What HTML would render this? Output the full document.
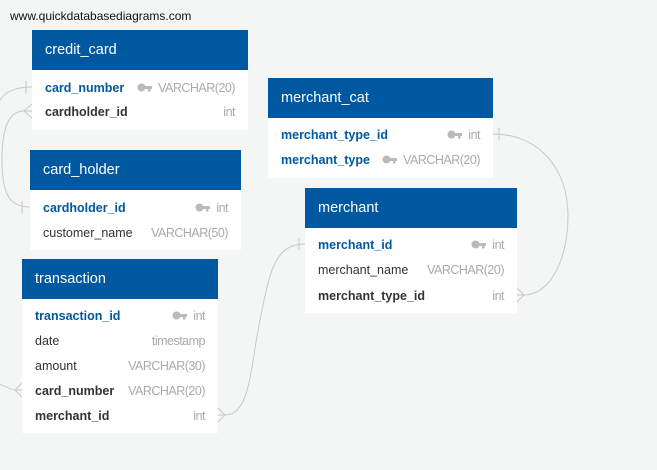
<!DOCTYPE html>
<html><head><meta charset="utf-8"><style>
html,body{margin:0;padding:0}
body{width:657px;height:470px;background:#f4f5f5;position:relative;overflow:hidden;font-family:"Liberation Sans",Arial,sans-serif}
.url{position:absolute;left:10px;top:9px;font-size:12px;color:#111}
.t{position:absolute;background:#fff}
.h{background:#0059a0;color:#fff;font-size:14.5px;height:40px;line-height:41px;padding-left:13px}
.r{position:absolute;left:13px;right:13px;height:20px;font-size:12.5px;line-height:22px}
.r .n{position:absolute;left:0;color:#333}
.r .n.b{font-weight:bold;color:#333}
.r .n.pk{font-weight:bold;color:#0059a0}
.r .ty{position:absolute;right:0;color:#aaa;font-size:12.5px;letter-spacing:-0.5px}
.k{display:inline-block;vertical-align:middle;margin-right:6px;margin-top:-2px}
svg.c{position:absolute;left:0;top:0}
</style></head><body>
<div class="url">www.quickdatabasediagrams.com</div>

<svg class="c" width="657" height="470" fill="none" stroke="#c8c8c8" stroke-width="1">
<path d="M32,87 C10,87 0,95 -5,110"/>
<path d="M16,390 C10,390 5,385 -5,383"/>
<line x1="26" y1="81" x2="26" y2="93"/>
<path d="M32,104 L24,111 L32,118"/>
<line x1="24" y1="111" x2="32" y2="111"/>
<path d="M22,383 L15,390 L22,397"/>
<line x1="15" y1="390" x2="22" y2="390"/>
<path d="M24,111 C10,111 2,125 2,160 C2,195 10,207 30,207"/>
<line x1="22" y1="201" x2="22" y2="213"/>
<path d="M225,415 C250,415 250,370 260,320 C270,270 275,244 305,244"/>
<line x1="218" y1="415" x2="225" y2="415"/>
<line x1="299" y1="238" x2="299" y2="250"/>
<path d="M218,408 L225,415 L218,422"/>
<path d="M493,134 C540,134 568,170 568,215 C568,260 550,295 524,295"/>
<line x1="517" y1="295" x2="524" y2="295"/>
<line x1="499" y1="128" x2="499" y2="140"/>
<path d="M517,288 L524,295 L517,302"/>
</svg>

<div class="t" style="left:32px;top:30px;width:216px;height:100px">
<div class="h">credit_card</div>
<div class="r" style="top:47px"><span class="n pk">card_number</span><span class="ty"><svg class="k" width="15" height="9"><circle cx="4.5" cy="4.5" r="4" fill="#bbb"/><rect x="7" y="3" width="8" height="3" fill="#bbb"/><rect x="11" y="4" width="2.5" height="4.5" fill="#bbb"/></svg>VARCHAR(20)</span></div>
<div class="r" style="top:71px"><span class="n b">cardholder_id</span><span class="ty">int</span></div>
</div>

<div class="t" style="left:30px;top:150px;width:211px;height:100px">
<div class="h">card_holder</div>
<div class="r" style="top:47px"><span class="n pk">cardholder_id</span><span class="ty"><svg class="k" width="15" height="9"><circle cx="4.5" cy="4.5" r="4" fill="#bbb"/><rect x="7" y="3" width="8" height="3" fill="#bbb"/><rect x="11" y="4" width="2.5" height="4.5" fill="#bbb"/></svg>int</span></div>
<div class="r" style="top:72px"><span class="n">customer_name</span><span class="ty">VARCHAR(50)</span></div>
</div>

<div class="t" style="left:22px;top:259px;width:196px;height:174px">
<div class="h">transaction</div>
<div class="r" style="top:46px"><span class="n pk">transaction_id</span><span class="ty"><svg class="k" width="15" height="9"><circle cx="4.5" cy="4.5" r="4" fill="#bbb"/><rect x="7" y="3" width="8" height="3" fill="#bbb"/><rect x="11" y="4" width="2.5" height="4.5" fill="#bbb"/></svg>int</span></div>
<div class="r" style="top:71px"><span class="n">date</span><span class="ty">timestamp</span></div>
<div class="r" style="top:96px"><span class="n">amount</span><span class="ty">VARCHAR(30)</span></div>
<div class="r" style="top:121px"><span class="n b">card_number</span><span class="ty">VARCHAR(20)</span></div>
<div class="r" style="top:146px"><span class="n b">merchant_id</span><span class="ty">int</span></div>
</div>

<div class="t" style="left:268px;top:78px;width:225px;height:100px">
<div class="h">merchant_cat</div>
<div class="r" style="top:46px"><span class="n pk">merchant_type_id</span><span class="ty"><svg class="k" width="15" height="9"><circle cx="4.5" cy="4.5" r="4" fill="#bbb"/><rect x="7" y="3" width="8" height="3" fill="#bbb"/><rect x="11" y="4" width="2.5" height="4.5" fill="#bbb"/></svg>int</span></div>
<div class="r" style="top:71px"><span class="n pk">merchant_type</span><span class="ty"><svg class="k" width="15" height="9"><circle cx="4.5" cy="4.5" r="4" fill="#bbb"/><rect x="7" y="3" width="8" height="3" fill="#bbb"/><rect x="11" y="4" width="2.5" height="4.5" fill="#bbb"/></svg>VARCHAR(20)</span></div>
</div>

<div class="t" style="left:305px;top:188px;width:212px;height:125px">
<div class="h">merchant</div>
<div class="r" style="top:46px"><span class="n pk">merchant_id</span><span class="ty"><svg class="k" width="15" height="9"><circle cx="4.5" cy="4.5" r="4" fill="#bbb"/><rect x="7" y="3" width="8" height="3" fill="#bbb"/><rect x="11" y="4" width="2.5" height="4.5" fill="#bbb"/></svg>int</span></div>
<div class="r" style="top:71px"><span class="n">merchant_name</span><span class="ty">VARCHAR(20)</span></div>
<div class="r" style="top:97px"><span class="n b">merchant_type_id</span><span class="ty">int</span></div>
</div>
</body></html>
